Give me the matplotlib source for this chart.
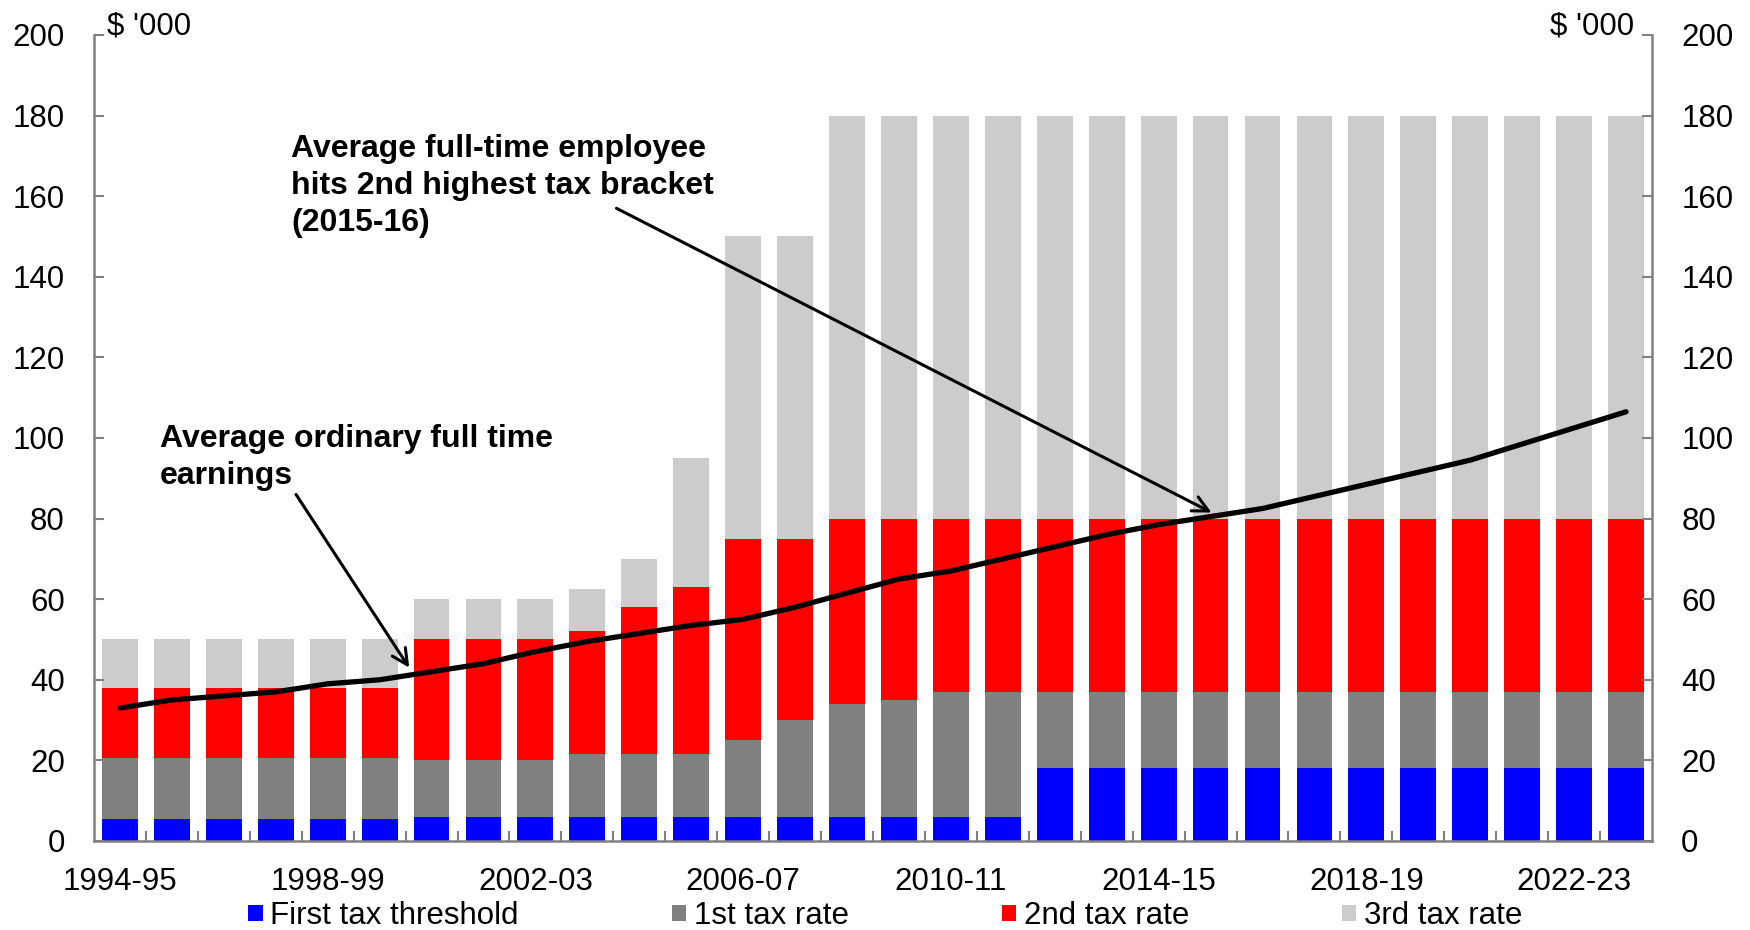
import matplotlib.pyplot as plt
import numpy as np

plt.rcParams['font.family'] = ['Liberation Sans', 'DejaVu Sans']

##--- data ($ '000), cumulative tops of each tax bracket
years = ['1994-95', '1995-96', '1996-97', '1997-98', '1998-99', '1999-00',
         '2000-01', '2001-02', '2002-03', '2003-04', '2004-05', '2005-06',
         '2006-07', '2007-08', '2008-09', '2009-10', '2010-11', '2011-12',
         '2012-13', '2013-14', '2014-15', '2015-16', '2016-17', '2017-18',
         '2018-19', '2019-20', '2020-21', '2021-22', '2022-23', '2023-24']

first_threshold = [5.4, 5.4, 5.4, 5.4, 5.4, 5.4,
                   6, 6, 6, 6, 6, 6, 6, 6, 6, 6, 6, 6,
                   18.2, 18.2, 18.2, 18.2, 18.2, 18.2,
                   18.2, 18.2, 18.2, 18.2, 18.2, 18.2]
rate1_top = [20.7, 20.7, 20.7, 20.7, 20.7, 20.7,
             20, 20, 20, 21.6, 21.6, 21.6, 25, 30, 34, 35, 37, 37,
             37, 37, 37, 37, 37, 37, 37, 37, 37, 37, 37, 37]
rate2_top = [38, 38, 38, 38, 38, 38,
             50, 50, 50, 52, 58, 63, 75, 75, 80, 80, 80, 80,
             80, 80, 80, 80, 80, 80, 80, 80, 80, 80, 80, 80]
rate3_top = [50, 50, 50, 50, 50, 50,
             60, 60, 60, 62.5, 70, 95, 150, 150, 180, 180, 180, 180,
             180, 180, 180, 180, 180, 180, 180, 180, 180, 180, 180, 180]

earnings = [33, 35, 36, 37, 39, 40, 42, 44, 47, 49.5, 51.5, 53.5, 55, 58,
            61.5, 65, 67, 70, 73, 76, 78.5, 80.5, 82.5, 85.5, 88.5, 91.5,
            94.5, 98.5, 102.5, 106.5]

blue = '#0000FF' ; grey = '#808080' ; red = '#FF0000' ; lgrey = '#CCCCCC'
axcol = '#808080'
fs = 22.5

x = np.arange(len(years))
t1 = np.array(first_threshold)
t2 = np.array(rate1_top)
t3 = np.array(rate2_top)
t4 = np.array(rate3_top)

##----------------------- PLOTTING
fig = plt.figure(figsize=(17.5, 9.3), dpi=100)
ax = fig.add_axes([0.0537, 0.0957, 0.8903, 0.8667])

w = 0.69
ax.bar(x, t1, w, color=blue, label='First tax threshold')
ax.bar(x, t2 - t1, w, bottom=t1, color=grey, label='1st tax rate')
ax.bar(x, t3 - t2, w, bottom=t2, color=red, label='2nd tax rate')
ax.bar(x, t4 - t3, w, bottom=t3, color=lgrey, label='3rd tax rate')

ax.plot(x, earnings, color='black', lw=3.8, solid_capstyle='round', zorder=5)

ax.set_xlim(-0.5, len(years) - 0.5)
ax.set_ylim(0, 200)
ax.set_yticks(np.arange(0, 201, 20))

ax.set_xticks(x[::4])
ax.set_xticklabels(years[::4])
ax.set_xticks(np.arange(0.5, len(years) - 1, 1), minor=True)

for s in ['left', 'right', 'bottom']:
    ax.spines[s].set_color(axcol)
    ax.spines[s].set_linewidth(1.8)
ax.spines['top'].set_visible(False)

ax.tick_params(axis='y', direction='in', length=7, width=1.5, color=axcol,
               labelsize=fs, pad=21, left=True, right=True, labelright=True)
ax.tick_params(axis='x', which='major', length=0, labelsize=fs, pad=19)
ax.tick_params(axis='x', which='minor', direction='in', length=7,
               width=1.5, color=axcol)

ax.text(0.0084, 1.0, "$ '000", transform=ax.transAxes, fontsize=fs,
        ha='left', va='baseline')
ax.text(0.9884, 1.0, "$ '000", transform=ax.transAxes, fontsize=fs,
        ha='right', va='baseline')

##--- annotations
ax.text(3.3, 175.5, 'Average full-time employee\nhits 2nd highest tax bracket\n(2015-16)',
        fontsize=23, fontweight='bold', ha='left', va='top', linespacing=1.3)
ax.annotate('', xy=(21.02, 81.5), xytext=(9.56, 157),
            arrowprops=dict(arrowstyle='->', color='black', lw=2.2,
                            mutation_scale=28, shrinkA=0, shrinkB=0))

ax.text(0.77, 103.5, 'Average ordinary full time\nearnings',
        fontsize=23, fontweight='bold', ha='left', va='top', linespacing=1.3)
ax.annotate('', xy=(5.57, 43.0), xytext=(3.39, 86),
            arrowprops=dict(arrowstyle='->', color='black', lw=2.2,
                            mutation_scale=28, shrinkA=0, shrinkB=0))

fig.legend(loc='center', bbox_to_anchor=(0.506, 0.015), ncol=4, frameon=False,
           fontsize=fs, handlelength=0.45, handleheight=0.45,
           handletextpad=0.25, columnspacing=4.9, borderaxespad=0)

fig.savefig('out.png', dpi=100)
